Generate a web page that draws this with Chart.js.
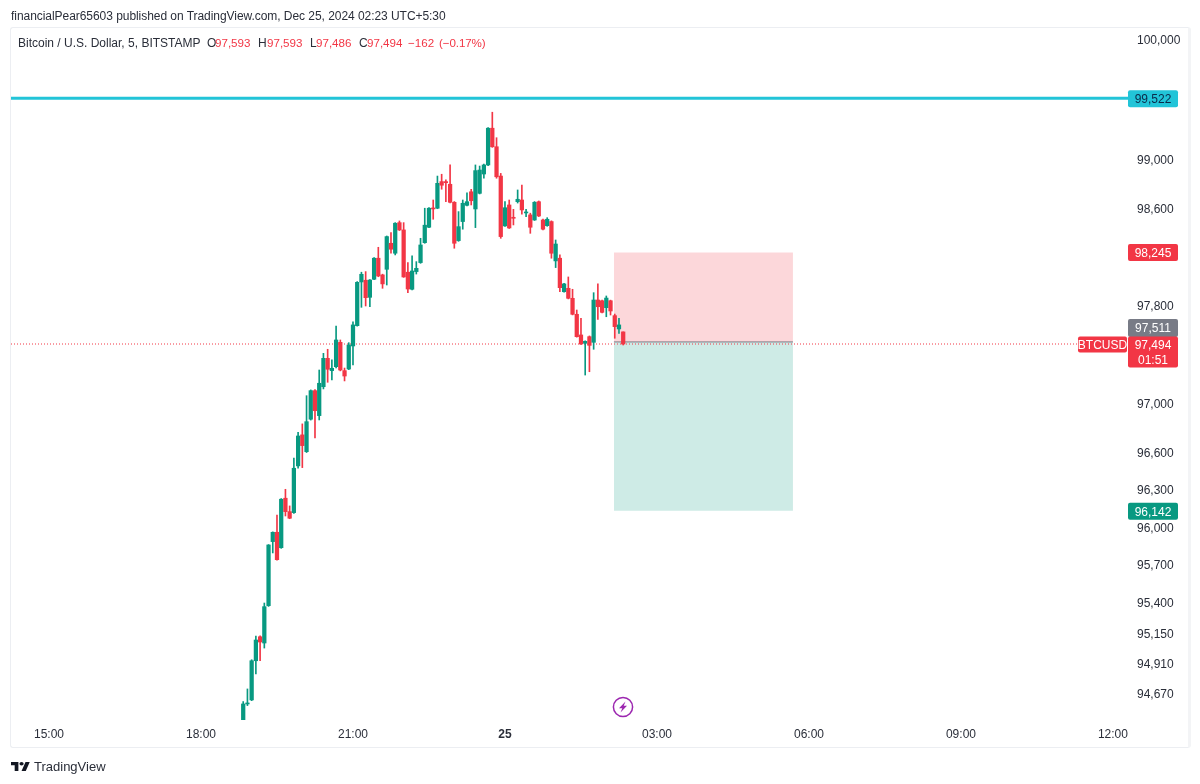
<!DOCTYPE html>
<html>
<head>
<meta charset="utf-8">
<title>BTCUSD</title>
<script src="https://cdn.jsdelivr.net/npm/chart.js@4"></script>
<style>
    html, body { margin: 0; padding: 0; background: #fff; }
    body { width: 1200px; height: 784px; position: relative; overflow: hidden; font-family: "Liberation Sans", sans-serif; color: #2a2e39; }
    #frame { position: absolute; left: 10px; top: 27px; width: 1181px; height: 721px; box-sizing: border-box; border: 1px solid #eceef2; border-right: 3px solid #f3f4f6; border-radius: 3px; }
    #balance { position: absolute; left: 0; top: 0; }
    .txt { position: absolute; white-space: nowrap; font-size: 12px; line-height: 14px; }
    .num { font-size: 11.6px; }
    .red { color: #f23645; }
    #bolt { position: absolute; left: 612px; top: 696px; }
    #logo { position: absolute; left: 11px; top: 762px; }
</style>
</head>
<body>
<div id="frame"></div>
<canvas id="priceChart" width="1200" height="784"></canvas>
<div class="txt" style="left:11px;top:9px;letter-spacing:-0.05px">financialPear65603 published on TradingView.com, Dec 25, 2024 02:23 UTC+5:30</div>
<div class="txt" style="left:18px;top:36px">Bitcoin / U.S. Dollar, 5, BITSTAMP</div>
<div class="txt" style="left:207px;top:36px">O</div><div class="txt num red" style="left:215px;top:36px">97,593</div>
<div class="txt" style="left:258px;top:36px">H</div><div class="txt num red" style="left:267px;top:36px">97,593</div>
<div class="txt" style="left:310px;top:36px">L</div><div class="txt num red" style="left:316px;top:36px">97,486</div>
<div class="txt" style="left:359px;top:36px">C</div><div class="txt num red" style="left:367px;top:36px">97,494</div>
<div class="txt num red" style="left:408px;top:36px">−162</div>
<div class="txt num red" style="left:439px;top:36px;letter-spacing:-0.1px">(−0.17%)</div>
<svg id="bolt" width="22" height="22" viewBox="0 0 22 22">
    <circle cx="11" cy="11" r="9.6" fill="#fff" stroke="#9c27b0" stroke-width="1.5"/>
    <path d="M13.5 5.5 L7 12.2 H10.3 L8.5 16.5 L15 9.8 H11.7 Z" fill="#9c27b0"/>
</svg>
<svg id="logo" width="19" height="9" viewBox="0 0 36 20" preserveAspectRatio="none">
    <path d="M14 20H7V7H0V0h14v20zM28 20h-8l7.5-20h8L28 20z" fill="#131722"/>
    <circle cx="20" cy="4" r="4" fill="#131722"/>
</svg>
<div class="txt" style="left:34px;top:760px;font-size:13px">TradingView</div>

<script>
// ===== DATA ===== //
// bar start, minutes from Dec 25 00:00
const barMinutes = [-310,-305,-300,-295,-290,-285,-280,-275,-270,-265,
    -260,-255,-250,-245,-240,-235,-230,-225,-220,-215,
    -210,-205,-200,-195,-190,-185,-180,-175,-170,-165,
    -160,-155,-150,-145,-140,-135,-130,-125,-120,-115,
    -110,-105,-100,-95,-90,-85,-80,-75,-70,-65,
    -60,-55,-50,-45,-40,-35,-30,-25,-20,-15,
    -10,-5,0,5,10,15,20,25,30,35,
    40,45,50,55,60,65,70,75,80,85,
    90,95,100,105,110,115,120,125,130,135,
    140];
const opens = [94466,94599,94631,94942,95133,95083,95381,95894,95969,95845,
    96243,96135,96127,96504,96755,96619,96882,97114,96911,97146,
    97377,97277,97309,97508,97277,97290,97478,97644,98002,98016,
    97876,98024,98197,98060,98106,98320,98238,98490,98430,98082,
    97942,98087,98161,98325,98452,98611,98609,98829,98829,98807,
    98658,98342,98499,98633,98745,98603,98732,98892,98967,99272,
    99118,98875,98463,98636,98534,98663,98677,98570,98554,98512,
    98663,98512,98465,98499,98175,98197,97922,97950,97868,97737,
    97568,97500,97554,97508,97854,97848,97791,97848,97726,97617,
    97593];
const highs = [94618,94718,94950,95139,95140,95402,95870,95972,96108,96240,
    96315,96181,96568,96776,96844,97073,97120,97122,97282,97418,
    97451,97364,97641,97527,97298,97505,97676,98005,98082,98087,
    98022,98203,98287,98066,98380,98408,98490,98504,98490,98161,
    98216,98169,98361,98609,98615,98677,98875,98890,98843,98967,
    98664,98581,98677,98737,98765,98967,98958,98975,99278,99405,
    99193,98897,98663,98677,98600,98760,98801,98600,98568,98664,
    98669,98520,98531,98505,98347,98224,97990,98043,97942,97772,
    97704,97520,97560,97914,97986,97853,97887,97853,97739,97704,
    97593];
const lows = [94466,94586,94625,94837,94942,95043,95375,95803,95745,95840,
    96100,96078,96120,96485,96490,96612,96875,96730,96876,97128,
    97182,97201,97300,97275,97193,97285,97323,97640,97794,97805,
    97799,98020,98045,97950,97977,98238,98224,98425,98040,97914,
    97936,98067,98155,98320,98448,98518,98605,98766,98663,98652,
    98279,98336,98436,98628,98636,98449,98727,98857,98962,99113,
    98857,98361,98458,98442,98471,98652,98559,98539,98402,98508,
    98540,98430,98460,98197,98120,97922,97918,97863,97732,97550,
    97490,97241,97268,97451,97696,97748,97717,97731,97541,97581,
    97486];
const closes = [94599,94607,94942,95107,95091,95373,95867,95969,95749,96235,
    96135,96082,96485,96746,96668,96862,97114,96951,97174,97377,
    97288,97296,97527,97282,97233,97486,97650,97999,98065,97873,
    98018,98197,98051,97986,98375,98271,98485,98430,98043,97944,
    98092,98114,98306,98469,98609,98603,98815,98799,98820,98658,
    98320,98457,98650,98663,98671,98920,98925,98967,99272,99118,
    98869,98375,98613,98446,98526,98683,98595,98578,98452,98658,
    98545,98436,98518,98238,98314,97955,97986,97868,97737,97554,
    97494,97516,97483,97854,97799,97753,97870,97764,97636,97650,
    97494];

const priceTicks = [100000,99000,98600,97800,97000,96600,96300,96000,95700,95400,95150,94910,94670];
const timeTicks = [-540,-360,-180,0,180,360,540,720];
const timeLabels = ['15:00','18:00','21:00','25','03:00','06:00','09:00','12:00'];

const resistance = 99522;
const lastPrice = 97494;
const entryPrice = 97511;
const stopPrice = 98245;
const targetPrice = 96142;
const positionMinutes = [129, 341];
const lastPriceLineEnd = 679;

const GREEN = '#089981';
const RED = '#f23645';
const CYAN = '#22c4d8';
const GREY = '#787b86';
const AXIS_TEXT = '#2a2e39';

// ===== HELPERS ===== //
const barColors = closes.map((c, i) => c >= opens[i] ? GREEN : RED);
const hline = (price, from, to) => [{ x: from, y: price }, { x: to, y: price }];
const X_MIN = -585, X_MAX = 739;

// ===== PRICE TAGS ===== //
const tagsPlugin = {
    id: 'priceTags',
    afterDraw(chart) {
        const ctx = chart.ctx;
        const y = chart.scales.y;
        const tag = (x, w, top, h, bg, lines, color) => {
            ctx.fillStyle = bg;
            ctx.beginPath();
            ctx.roundRect(x, top, w, h, 2);
            ctx.fill();
            ctx.fillStyle = color;
            ctx.font = '12px "Liberation Sans"';
            ctx.textAlign = 'center';
            ctx.textBaseline = 'middle';
            lines.forEach((line, i) => ctx.fillText(line, x + w / 2, top + 9.5 + i * 15));
        };
        tag(1128, 50, y.getPixelForValue(resistance) - 8, 17, CYAN, ['99,522'], '#0b2a4a');
        tag(1128, 50, y.getPixelForValue(stopPrice) - 8.5, 17, RED, ['98,245'], '#fff');
        tag(1128, 50, y.getPixelForValue(entryPrice) - 23, 18, GREY, ['97,511'], '#fff');
        tag(1128, 50, y.getPixelForValue(lastPrice) - 7.5, 31, RED, ['97,494', '01:51'], '#fff');
        tag(1078, 49, y.getPixelForValue(lastPrice) - 7.5, 16, RED, ['BTCUSD'], '#fff');
        tag(1128, 50, y.getPixelForValue(targetPrice) - 8, 17, GREEN, ['96,142'], '#fff');
    }
};

// ===== CHART ===== //
const ctx = document.getElementById('priceChart').getContext('2d');
const priceChart = new Chart(ctx, {
    data: {
        datasets: [
            {
                type: 'line', order: 6, data: hline(stopPrice, positionMinutes[0], positionMinutes[1]),
                borderWidth: 0, pointRadius: 0, fill: { value: entryPrice }, backgroundColor: 'rgba(242,54,69,0.2)'
            },
            {
                type: 'line', order: 6, data: hline(targetPrice, positionMinutes[0], positionMinutes[1]),
                borderWidth: 0, pointRadius: 0, fill: { value: entryPrice }, backgroundColor: 'rgba(8,153,129,0.2)'
            },
            {
                type: 'line', order: 5, data: hline(entryPrice, positionMinutes[0], positionMinutes[1]),
                borderColor: GREY, borderWidth: 1, pointRadius: 0, fill: false
            },
            {
                type: 'line', order: 4, data: hline(lastPrice, X_MIN, lastPriceLineEnd),
                borderColor: RED, borderWidth: 1, borderDash: [1, 2], pointRadius: 0, fill: false
            },
            {
                type: 'bar', order: 3, grouped: false, barThickness: 1,
                data: barMinutes.map((m, i) => ({ x: m, y: [lows[i], highs[i]] })),
                backgroundColor: barColors
            },
            {
                type: 'bar', order: 2, grouped: false, barThickness: 3.6, minBarLength: 1,
                data: barMinutes.map((m, i) => ({ x: m, y: [Math.min(opens[i], closes[i]), Math.max(opens[i], closes[i])] })),
                backgroundColor: barColors
            },
            {
                type: 'line', order: 1, data: hline(resistance, X_MIN, X_MAX),
                borderColor: CYAN, borderWidth: 3, pointRadius: 0, fill: false
            }
        ]
    },
    plugins: [tagsPlugin],
    options: {
        responsive: false,
        animation: false,
        layout: { padding: { left: 11, top: 27, right: 0, bottom: 36 } },
        plugins: { legend: { display: false }, tooltip: { enabled: false } },
        scales: {
            x: {
                type: 'linear',
                min: X_MIN,
                max: X_MAX,
                offset: false,
                grid: { display: false },
                border: { display: false },
                afterFit: axis => { axis.height = 28; },
                afterBuildTicks: axis => { axis.ticks = timeTicks.map(v => ({ value: v })); },
                ticks: {
                    autoSkip: false,
                    maxRotation: 0,
                    padding: -1,
                    color: AXIS_TEXT,
                    font: c => ({ family: 'Liberation Sans', size: 12, weight: c.tick && c.tick.value === 0 ? 'bold' : 'normal' }),
                    callback: v => timeLabels[timeTicks.indexOf(v)]
                }
            },
            y: {
                type: 'logarithmic',
                position: 'right',
                min: 94472,
                max: 100117,
                grid: { display: false },
                border: { display: false },
                afterFit: axis => { axis.width = 71; },
                afterBuildTicks: axis => { axis.ticks = priceTicks.map(v => ({ value: v })); },
                ticks: {
                    autoSkip: false,
                    padding: 0,
                    color: AXIS_TEXT,
                    font: { family: 'Liberation Sans', size: 12 },
                    callback: v => Number(v).toLocaleString('en-US')
                }
            }
        }
    }
});
</script>
</body>
</html>
